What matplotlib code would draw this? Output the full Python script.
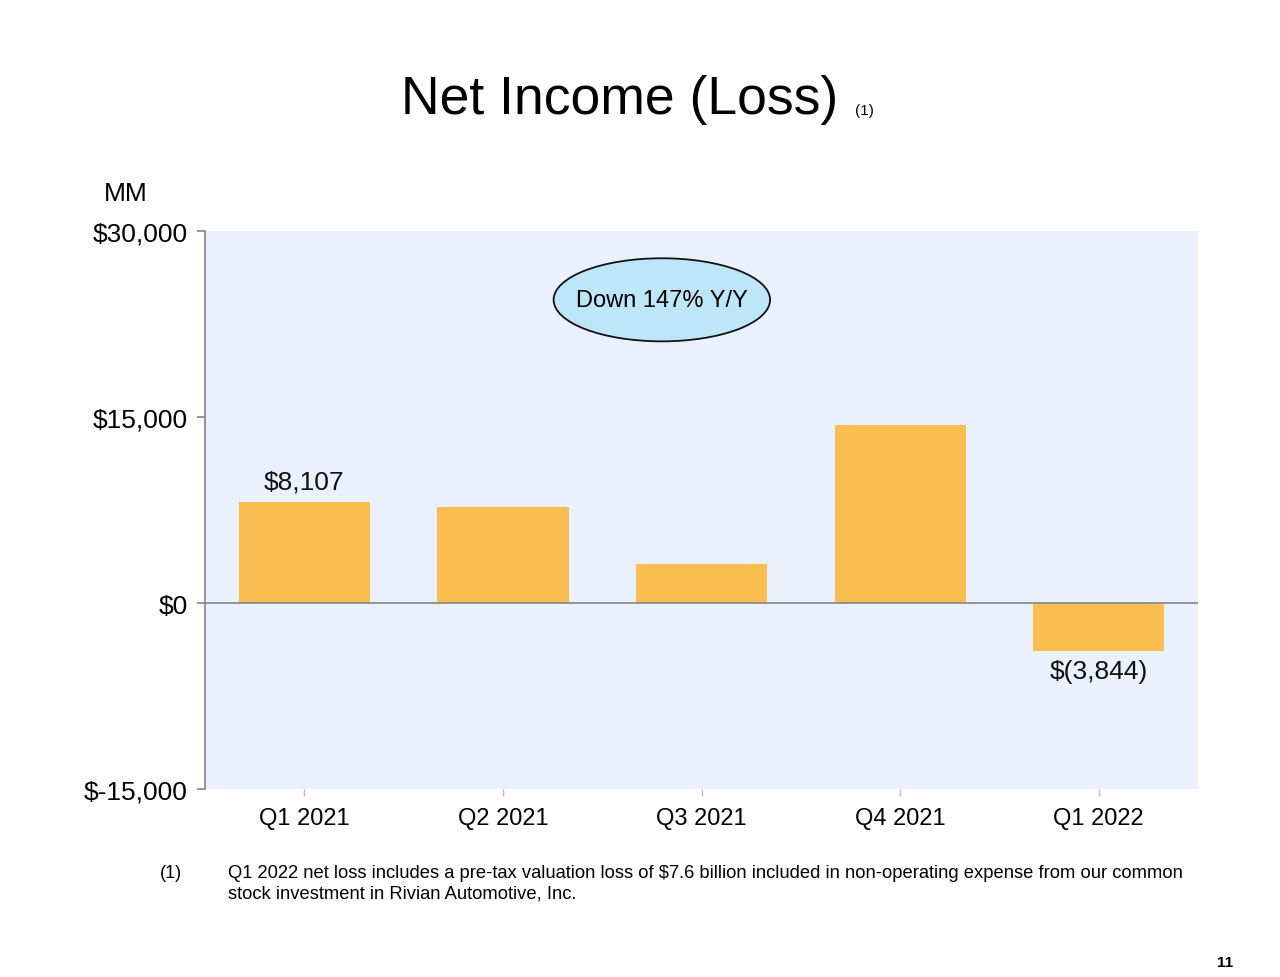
import numpy as np, matplotlib; matplotlib.use('Agg'); import matplotlib.pyplot as plt
from matplotlib.patches import Ellipse
plt.rcParams['font.family']=['Liberation Sans','DejaVu Sans']

quarters=['Q1 2021','Q2 2021','Q3 2021','Q4 2021','Q1 2022']
net_income=[8107,7778,3156,14323,-3844]
labels={0:'$8,107',4:'$(3,844)'}
yticks=[-15000,0,15000,30000]
ytick_labels=['$-15,000','$0','$15,000','$30,000']

BAR='#F9BE4F'; BG='#EAF1FC'; GREY='#8C8C8C'
fig=plt.figure(figsize=(12.8,9.78),dpi=100)
ax=fig.add_axes([0.1602,0.1922,0.7758,0.5706])
ax.set_facecolor(BG)
x=np.arange(len(quarters))
ax.bar(x,net_income,width=0.66,color=BAR,zorder=2)
ax.axhline(0,color=GREY,lw=1.3,zorder=3)
ax.set_xlim(-0.5,4.5); ax.set_ylim(-15000,30000)
ax.set_yticks(yticks); ax.set_yticklabels(ytick_labels,fontsize=19)
ax.set_xticks(x); ax.set_xticklabels(quarters,fontsize=17)
for s in ['top','right','bottom']: ax.spines[s].set_visible(False)
ax.spines['left'].set_color(GREY); ax.spines['left'].set_linewidth(1.3)
ax.tick_params(axis='y',length=6,color=GREY,width=1.3,pad=6.5)
ax.tick_params(axis='x',length=5,color='#BBBBBB',width=1,pad=8)
for i,t in labels.items():
    v=net_income[i]
    ax.text(i,v+(700 if v>0 else -700),t,ha='center',va='bottom' if v>0 else 'top',fontsize=19,color='#111111')
ax.add_patch(Ellipse((1.80,24450),1.09,6700,facecolor='#BDE6F8',edgecolor='#111111',lw=1.3,zorder=4))
ax.text(1.80,24450,'Down 147% Y/Y',ha='center',va='center',fontsize=17,zorder=5)

fig.text(0.484,0.898,'Net Income (Loss)',ha='center',va='center',fontsize=38.5)
fig.text(0.668,0.886,'(1)',ha='left',va='center',fontsize=11)
fig.text(0.0815,0.802,'MM',fontsize=19,va='center')
fn=['Liberation Sans Narrow','Liberation Sans']
fig.text(0.125,0.107,'(1)',fontsize=13,va='center',family=fn)
fig.text(0.178,0.107,'Q1 2022 net loss includes a pre-tax valuation loss of $7.6 billion included in non-operating expense from our common',fontsize=13.2,va='center',family=fn)
fig.text(0.178,0.086,'stock investment in Rivian Automotive, Inc.',fontsize=13.2,va='center',family=fn)
fig.text(0.963,0.011,'11',fontsize=11,fontweight='bold',ha='right')
fig.savefig('out.png',dpi=100)
